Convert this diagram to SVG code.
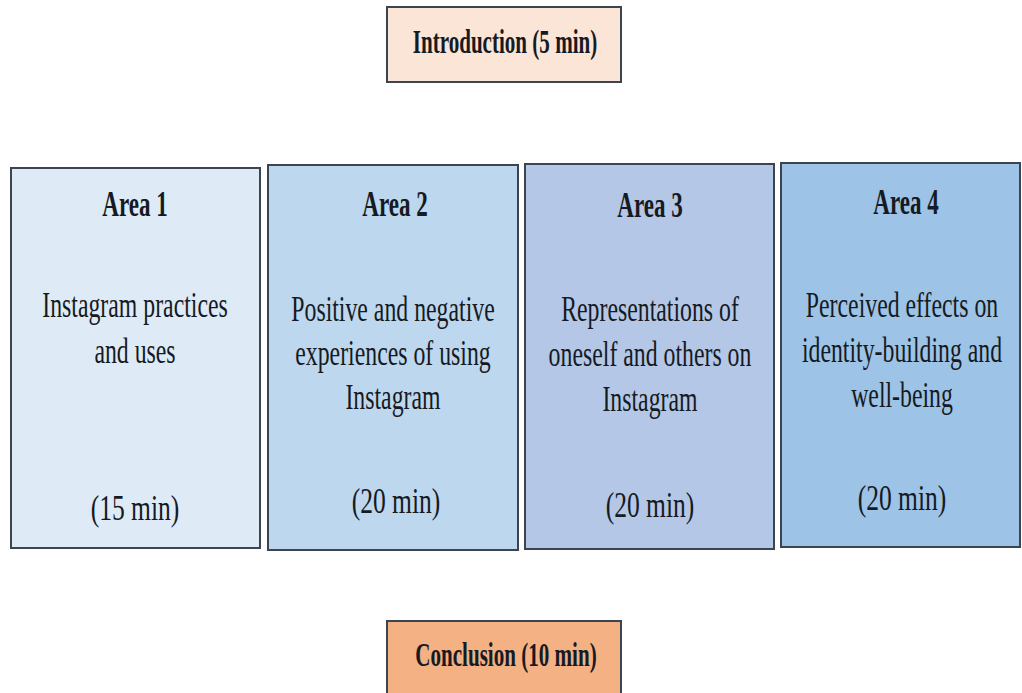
<svg xmlns="http://www.w3.org/2000/svg" width="1022" height="693" viewBox="0 0 1022 693">
<style>
.box{stroke:#3c4452;stroke-width:2}
.t{font-family:"Liberation Serif","Times New Roman",serif;fill:#161a22;text-anchor:middle}
.b{font-weight:bold;font-size:34px}
.h{font-weight:bold;font-size:36px}
.body{font-size:35px}
.tm{font-size:35px}
</style>
<rect width="1022" height="693" fill="#ffffff"/>
<g id="intro">
<rect class="box" x="387" y="7" width="234" height="75" fill="#fbe5d6"/>
<text class="t b" transform="translate(505,53) scale(0.62,1)">Introduction (5 min)</text>
</g>
<g id="area1">
<rect class="box" x="11" y="168" width="249" height="380" fill="#deebf7"/>
<text class="t h" transform="translate(135,216) scale(0.64,1)">Area 1</text>
<text class="t body" transform="translate(135,317) scale(0.68,1)">Instagram practices</text>
<text class="t body" transform="translate(135,363) scale(0.68,1)">and uses</text>
<text class="t tm" transform="translate(135,520) scale(0.73,1)">(15 min)</text>
</g>
<g id="area2">
<rect class="box" x="268" y="165" width="250" height="385" fill="#bdd7ee"/>
<text class="t h" transform="translate(395,216) scale(0.64,1)">Area 2</text>
<text class="t body" transform="translate(393,321) scale(0.68,1)">Positive and negative</text>
<text class="t body" transform="translate(393,365) scale(0.68,1)">experiences of using</text>
<text class="t body" transform="translate(393,409) scale(0.68,1)">Instagram</text>
<text class="t tm" transform="translate(396,513) scale(0.73,1)">(20 min)</text>
</g>
<g id="area3">
<rect class="box" x="525" y="164" width="249" height="385" fill="#b4c7e7"/>
<text class="t h" transform="translate(650,217) scale(0.64,1)">Area 3</text>
<text class="t body" transform="translate(650,321) scale(0.68,1)">Representations of</text>
<text class="t body" transform="translate(650,366) scale(0.68,1)">oneself and others on</text>
<text class="t body" transform="translate(650,411) scale(0.68,1)">Instagram</text>
<text class="t tm" transform="translate(650,517) scale(0.73,1)">(20 min)</text>
</g>
<g id="area4">
<rect class="box" x="781" y="163" width="239" height="384" fill="#9dc3e6"/>
<text class="t h" transform="translate(906,214) scale(0.64,1)">Area 4</text>
<text class="t body" transform="translate(902,317) scale(0.68,1)">Perceived effects on</text>
<text class="t body" transform="translate(902,362) scale(0.68,1)">identity-building and</text>
<text class="t body" transform="translate(902,407) scale(0.68,1)">well-being</text>
<text class="t tm" transform="translate(902,510) scale(0.73,1)">(20 min)</text>
</g>
<g id="conclusion">
<rect class="box" x="387" y="621" width="234" height="80" fill="#f4b183"/>
<text class="t b" transform="translate(506,666) scale(0.62,1)">Conclusion (10 min)</text>
</g>
<g id="connectors"></g>
</svg>
